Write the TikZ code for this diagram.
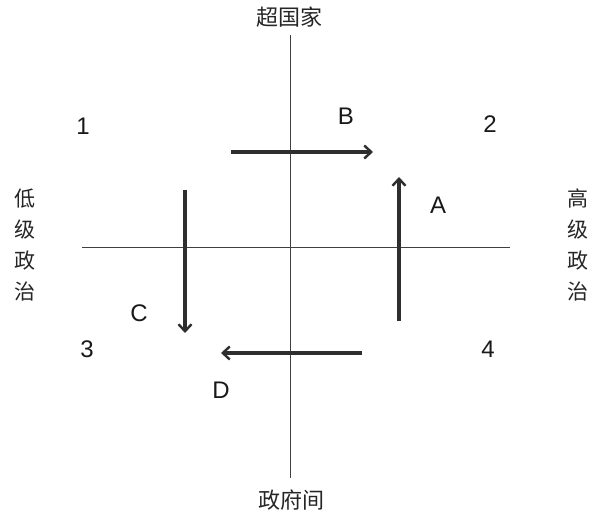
\documentclass[tikz,border=0pt]{standalone}
\usepackage{fontspec}
\setmainfont{Liberation Sans}
\newfontfamily\cjk{Noto Sans CJK SC}
\usetikzlibrary{arrows.meta}
\begin{document}
\begin{tikzpicture}[x=1pt,y=-1pt,
  axis/.style={draw=black!75, line width=1pt},
  flow/.style={draw=black!82, line width=3.2pt, -{Straight Barb[length=7pt,width=13pt,line width=2.4pt]}},
  cjklab/.style={font=\cjk\fontsize{22}{26}\selectfont, inner sep=0pt, text=black!85},
  vlab/.style={font=\cjk\fontsize{21}{31}\selectfont, inner sep=0pt, align=center, text=black!85},
  lab/.style={font=\fontsize{24}{28}\selectfont, inner sep=0pt, text=black!90}]
\useasboundingbox[fill=white] (0,0) rectangle (592,518);
% axes
\coordinate (vt) at (290,35);
\coordinate (vb) at (290,478);
\coordinate (hl) at (82,248);
\coordinate (hr) at (510,248);
\draw[axis] (vt) -- (vb);
\draw[axis] (hl) -- (hr);
% axis labels
\node[cjklab] (top) at (289,17) {超国家};
\node[cjklab] (bot) at (291,500) {政府间};
\node[vlab] (left) at (25,245) {低\\级\\政\\治};
\node[vlab] (right) at (578,245) {高\\级\\政\\治};
% quadrant numbers
\node[lab] (q1) at (83,126) {1};
\node[lab] (q2) at (490,124) {2};
\node[lab] (q3) at (87,349) {3};
\node[lab] (q4) at (488,349) {4};
% arrow endpoints
\coordinate (bs) at (231,152); \coordinate (be) at (373,152);
\coordinate (as) at (399,321); \coordinate (ae) at (399,177);
\coordinate (cs) at (185,190); \coordinate (ce) at (185,333);
\coordinate (ds) at (362,353); \coordinate (de) at (221,353);
\draw[flow] (bs) -- (be);
\draw[flow] (as) -- (ae);
\draw[flow] (cs) -- (ce);
\draw[flow] (ds) -- (de);
% arrow labels
\node[lab] (lb) at (346,116) {B};
\node[lab] (la) at (438,205) {A};
\node[lab] (lc) at (139,313) {C};
\node[lab] (ld) at (221,390) {D};
\end{tikzpicture}
\end{document}
